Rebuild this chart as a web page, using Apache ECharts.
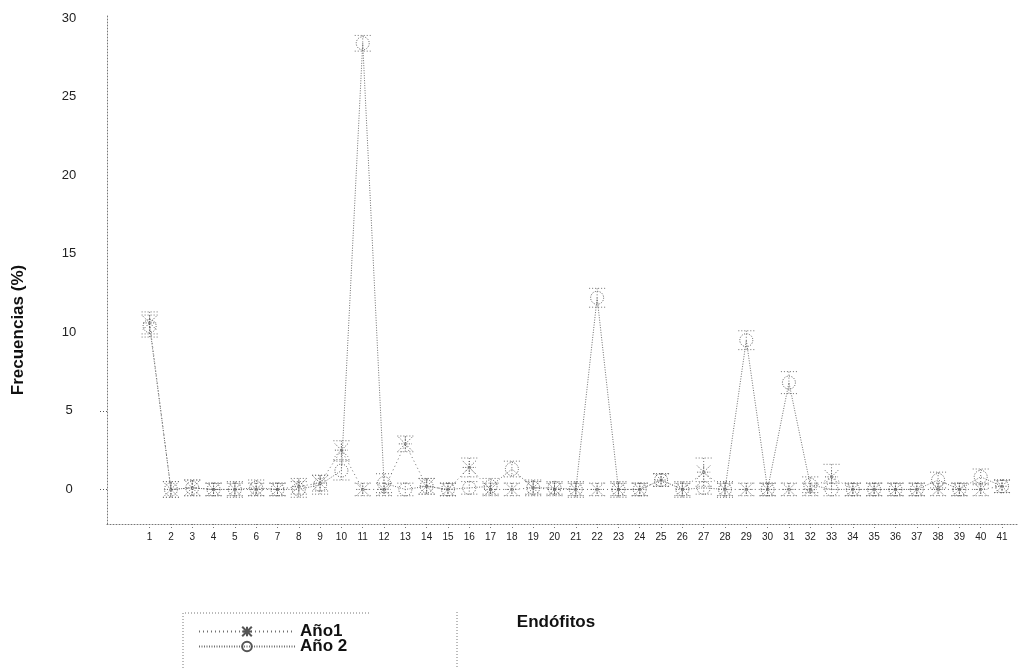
<!DOCTYPE html>
<html>
<head>
<meta charset="utf-8">
<script src="https://cdn.jsdelivr.net/npm/echarts@6/dist/echarts.min.js"></script>
<style>html,body{margin:0;padding:0;background:#fff}#c{width:1034px;height:668px}</style>
</head>
<body>
<div id="c"></div>
<script>
var categories = [1,2,3,4,5,6,7,8,9,10,11,12,13,14,15,16,17,18,19,20,21,22,23,24,25,26,27,28,29,30,31,32,33,34,35,36,37,38,39,40,41];
var ano1 = [10.6,0,0.1,0,0,0,0,0.2,0.4,2.5,0,0,2.9,0.2,0,1.4,0,0,0.1,0,0,0,0,0,0.6,0,1.1,0,0,0,0,0,0.8,0,0,0,0,0,0,0,0.2];
var ano2 = [10.4,0,0.1,0,0,0.1,0,0,0.3,1.2,28.4,0.4,0,0.2,0,0.1,0.2,1.3,0.1,0.1,0,12.2,0,0,0.6,0,0.1,0,9.5,0,6.8,0.3,0,0,0,0,0,0.6,0,0.8,0.2];
var err1 = [0.7,0.5,0.5,0.4,0.4,0.4,0.4,0.5,0.5,0.6,0.4,0.4,0.5,0.5,0.4,0.6,0.4,0.4,0.4,0.4,0.4,0.4,0.4,0.4,0.4,0.4,0.9,0.4,0.4,0.4,0.4,0.4,0.8,0.4,0.4,0.4,0.4,0.4,0.4,0.4,0.4];
var err2 = [0.7,0.5,0.5,0.4,0.5,0.5,0.4,0.5,0.6,0.6,0.5,0.6,0.4,0.5,0.4,0.4,0.5,0.5,0.5,0.4,0.5,0.6,0.5,0.4,0.4,0.5,0.4,0.5,0.6,0.4,0.7,0.5,0.4,0.4,0.4,0.4,0.4,0.5,0.4,0.5,0.4];
var yTickLabels = [0,5,10,15,20,25,30];
var seriesNames = ['Año1','Año 2'];

var FONT = '"Liberation Sans", Arial, sans-serif';
var GREY = '#707070';

function pairs(vals){ return categories.map(function(c,i){ return [c, vals[i]]; }); }
function errData(vals, errs){ return categories.map(function(c,i){ return [c, vals[i], errs[i]]; }); }

function errRender(params, api){
  var x = api.value(0), v = api.value(1), e = api.value(2);
  var top = api.coord([x, v + e]);
  var bot = api.coord([x, v - e]);
  var hw = 8;
  var st = {stroke: GREY, lineWidth: 1, lineDash: [1, 2]};
  return {type: 'group', children: [
    {type: 'line', shape: {x1: top[0], y1: top[1], x2: bot[0], y2: bot[1]}, style: st},
    {type: 'line', shape: {x1: top[0]-hw, y1: top[1], x2: top[0]+hw, y2: top[1]}, style: st},
    {type: 'line', shape: {x1: bot[0]-hw, y1: bot[1], x2: bot[0]+hw, y2: bot[1]}, style: st}
  ]};
}

var chart = echarts.init(document.getElementById('c'), null, {renderer: 'canvas'});
chart.setOption({
  animation: false,
  backgroundColor: '#fff',
  grid: {left: 107, right: 16, top: 15, bottom: 144},
  xAxis: {
    type: 'value', min: -1, max: 41.75,
    splitLine: {show: false},
    axisLine: {show: true, onZero: false, lineStyle: {color: '#777', type: [1, 2], width: 1}},
    axisTick: {show: true, customValues: categories, length: 6, lineStyle: {color: '#777', type: [1, 2]}},
    axisLabel: {customValues: categories, fontSize: 10, color: '#222', fontFamily: FONT, margin: 8}
  },
  yAxis: {
    type: 'value', min: -2.2, max: 30.2,
    splitLine: {show: false},
    axisLine: {show: true, onZero: false, lineStyle: {color: '#777', type: [1, 2], width: 1}},
    axisTick: {show: true, customValues: [0, 5], length: 9, lineStyle: {color: '#555', type: [1, 2]}},
    axisLabel: {customValues: yTickLabels, fontSize: 13, color: '#222', fontFamily: FONT, align: 'center', margin: 38}
  },
  legend: {
    data: seriesNames, orient: 'vertical', left: 198, top: 623, padding: 0,
    itemWidth: 96, itemHeight: 12, itemGap: -2,
    textStyle: {fontFamily: FONT, fontWeight: 'bold', fontSize: 17, color: '#111', lineHeight: 14}
  },
  series: [
    {
      name: seriesNames[0], type: 'line', data: pairs(ano1),
      symbol: 'path://M0,0 L10,10 M10,0 L0,10 M5,0 L5,10 M0,5 L10,5', symbolSize: 13,
      lineStyle: {color: GREY, width: 1, type: [1, 3]},
      itemStyle: {color: 'rgba(0,0,0,0)', borderColor: '#555', borderWidth: 1, borderType: [1, 1.5]},
      z: 3
    },
    {
      name: seriesNames[1], type: 'line', data: pairs(ano2),
      symbol: 'circle', symbolSize: 13,
      lineStyle: {color: GREY, width: 1, type: [1, 1.5]},
      itemStyle: {color: 'rgba(0,0,0,0)', borderColor: '#555', borderWidth: 1, borderType: [1, 1.5]},
      z: 3
    },
    {type: 'custom', name: 'e1', data: errData(ano1, err1), renderItem: errRender, z: 2, silent: true},
    {type: 'custom', name: 'e2', data: errData(ano2, err2), renderItem: errRender, z: 2, silent: true}
  ],
  graphic: [
    {type: 'text', x: 18, y: 330, rotation: Math.PI/2,
     style: {text: 'Frecuencias (%)', font: 'bold 17px ' + FONT, fill: '#111', textAlign: 'center', textVerticalAlign: 'middle'}},
    {type: 'text', x: 556, y: 622,
     style: {text: 'Endófitos', font: 'bold 17px ' + FONT, fill: '#111', textAlign: 'center', textVerticalAlign: 'middle'}},
    {type: 'polyline', shape: {points: [[183, 668], [183, 613], [371, 613]]},
     style: {stroke: '#777', fill: null, lineWidth: 1, lineDash: [1, 2]}},
    {type: 'line', shape: {x1: 457, y1: 612, x2: 457, y2: 668},
     style: {stroke: '#777', lineWidth: 1, lineDash: [1, 2]}}
  ]
});
</script>
</body>
</html>
